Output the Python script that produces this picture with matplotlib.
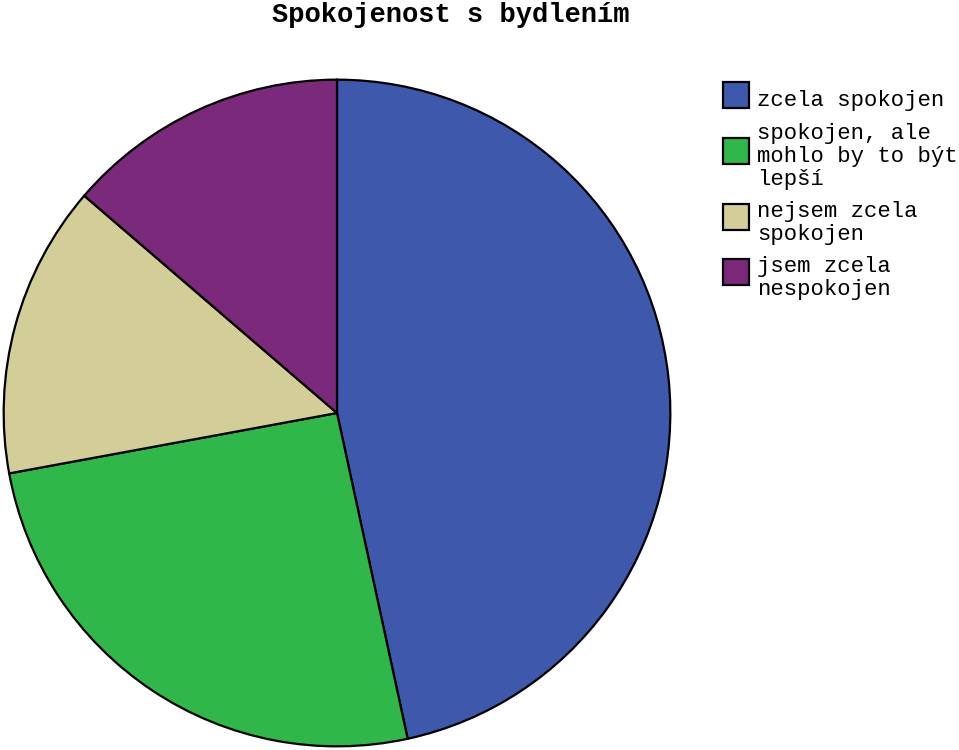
import matplotlib.pyplot as plt
from matplotlib.patches import Rectangle

labels = ['zcela spokojen', 'spokojen, ale\nmohlo by to být\nlepší',
          'nejsem zcela\nspokojen', 'jsem zcela\nnespokojen']
values = [46.6, 25.5, 14.2, 13.7]
colors = ['#3E58AC', '#2FB849', '#D3CE98', '#7B2A7B']

W, H = 959, 750
fig = plt.figure(figsize=(W / 100, H / 100), dpi=100)
mono = 'Liberation Mono'

# pie, centre (337, 413) px, radius 335 px
cx, cy, r = 337, 413, 335
ax = fig.add_axes([(cx - r) / W, (H - cy - r) / H, 2 * r / W, 2 * r / H])
ax.pie(values, colors=colors, startangle=90, counterclock=False, radius=1,
       wedgeprops=dict(edgecolor='black', linewidth=1.6))
ax.set_xlim(-1.005, 1.005)
ax.set_ylim(-1.005, 1.005)
ax.set_aspect('equal')
ax.axis('off')

fig.text(451 / W, 1 - 15 / H, 'Spokojenost s bydlením', ha='center', va='center',
         family=mono, fontweight='bold', fontsize=19.5)

# legend drawn by hand (box + wrapped text)
box_y = [95, 151, 217, 272]
text_top = [90, 123, 201, 256]
for lab, col, by, ty in zip(labels, colors, box_y, text_top):
    fig.patches.append(Rectangle(((723) / W, 1 - (by + 13) / H), 26 / W, 26 / H,
                                 transform=fig.transFigure, facecolor=col,
                                 edgecolor='black', linewidth=1.6))
    fig.text(757 / W, 1 - ty / H, lab, ha='left', va='top', family=mono,
             fontsize=16, linespacing=1.12)

fig.savefig('out.png', dpi=100)
